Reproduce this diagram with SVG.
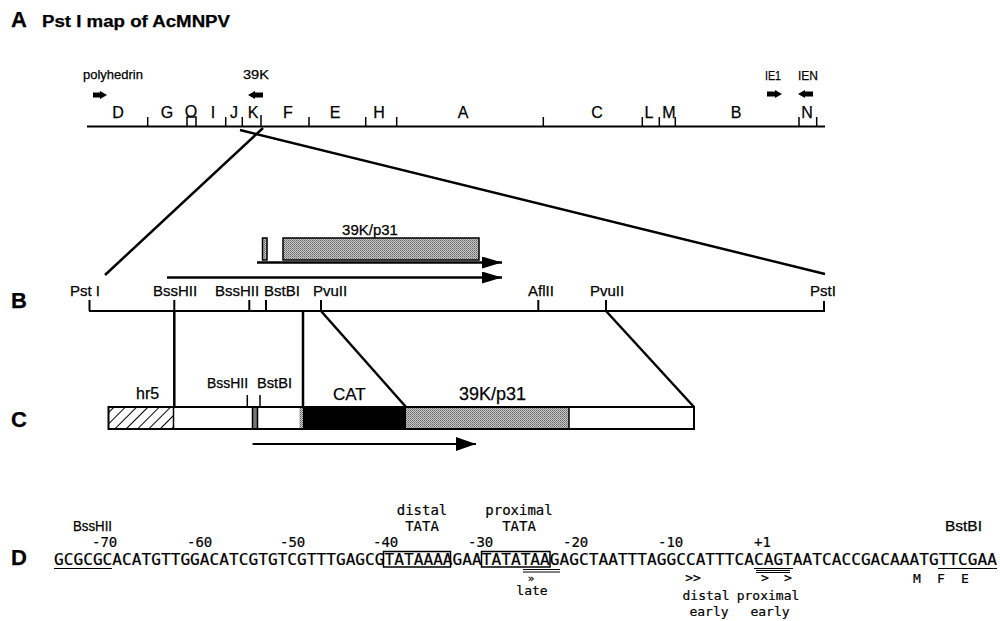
<svg xmlns="http://www.w3.org/2000/svg" width="1000" height="621" viewBox="0 0 1000 621">
<defs>
<style>
.s{font-family:"Liberation Sans",Arial,sans-serif;fill:#000;stroke:#000;stroke-width:0.25}
.b{font-weight:bold}
.m{font-family:"DejaVu Sans Mono","Liberation Mono",monospace;fill:#000;stroke:#000;stroke-width:0.2}
.c{text-anchor:middle}
.ln{stroke:#000;fill:none}
.con{stroke:#000;stroke-width:2.5;fill:none}
</style>
<pattern id="hatch" width="8" height="8" patternUnits="userSpaceOnUse" patternTransform="rotate(45)">
<rect width="8" height="8" fill="#fff"/>
<line x1="0" y1="0" x2="0" y2="8" stroke="#000" stroke-width="2"/>
</pattern>
<pattern id="dots" width="2" height="2" patternUnits="userSpaceOnUse">
<rect width="2" height="2" fill="#c8c8c8"/>
<rect width="1" height="1" fill="#666"/>
<rect x="1" y="1" width="1" height="1" fill="#888"/>
</pattern>
<marker id="ah" viewBox="0 0 20 12" refX="20" refY="6" markerWidth="20" markerHeight="12" markerUnits="userSpaceOnUse" orient="auto">
<path d="M0,0 L20,6 L0,12 z" fill="#000"/>
</marker>
<marker id="ah2" viewBox="0 0 20 14" refX="20" refY="7" markerWidth="20" markerHeight="14" markerUnits="userSpaceOnUse" orient="auto">
<path d="M0,0 L20,7 L0,14 z" fill="#000"/>
</marker>
</defs>
<rect width="1000" height="621" fill="#fff"/>

<!-- Panel A -->
<g id="panelA">
<text class="s b" x="11" y="27" font-size="22">A</text>
<text class="s b" x="42" y="27" font-size="16" textLength="188" lengthAdjust="spacingAndGlyphs">Pst I map of AcMNPV</text>
<g id="genes-A">
<text class="s" x="83" y="79" font-size="13" textLength="60" lengthAdjust="spacingAndGlyphs">polyhedrin</text>
<polygon points="93,92.5 100,92.5 100,91 107,95 100,99 100,97.5 93,97.5" fill="#000"/>
<text class="s" x="243" y="79" font-size="13" textLength="26" lengthAdjust="spacingAndGlyphs">39K</text>
<polygon points="263,92.5 255,92.5 255,91 248,95 255,99 255,97.5 263,97.5" fill="#000"/>
<text class="s" x="765" y="80" font-size="13" textLength="16" lengthAdjust="spacingAndGlyphs">IE1</text>
<polygon points="767,91.5 775,91.5 775,90 782,94 775,98 775,96.5 767,96.5" fill="#000"/>
<text class="s" x="798" y="80" font-size="13" textLength="20" lengthAdjust="spacingAndGlyphs">IEN</text>
<polygon points="813,91.5 805,91.5 805,90 798,94 805,98 805,96.5 813,96.5" fill="#000"/>
</g>
<g id="map-A">
<line class="ln" x1="87" y1="126.5" x2="825" y2="126.5" stroke-width="1.8"/>
<path class="ln" stroke-width="1.5" d="M147.7,126 V117 M225.7,126 V117 M242.3,126 V117 M261,126 V115 M309,126 V117 M365.7,126 V117 M396.7,126 V117 M543.3,126 V117 M642.3,126 V117 M659.3,126 V117 M675.3,126 V117 M799,126 V117 M816.7,126 V117 M187,126 V117 H196 V126"/>
</g>
<g class="s c" font-size="16">
<text x="118" y="118">D</text>
<text x="167" y="118">G</text>
<text x="191" y="117">O</text>
<text x="213" y="118">I</text>
<text x="234" y="118">J</text>
<text x="253" y="118">K</text>
<text x="288" y="118">F</text>
<text x="335" y="118">E</text>
<text x="379" y="118">H</text>
<text x="463" y="118">A</text>
<text x="597" y="118">C</text>
<text x="649" y="118">L</text>
<text x="669" y="118">M</text>
<text x="736" y="118">B</text>
<text x="807" y="118">N</text>
</g>
</g>

<!-- Panel B -->
<g id="panelB">
<text class="s b" x="11" y="308" font-size="22">B</text>
<g id="transcripts-B">
<text class="s c" x="370" y="235" font-size="15">39K/p31</text>
<rect x="262.5" y="238" width="4.5" height="22" fill="url(#dots)" stroke="#000" stroke-width="1.5"/>
<rect x="283" y="238" width="196" height="22" fill="url(#dots)" stroke="#000" stroke-width="1.5"/>
<line class="ln" x1="257" y1="262.5" x2="502" y2="262.5" stroke-width="2.5" marker-end="url(#ah)"/>
<line class="ln" x1="167" y1="277.5" x2="502" y2="277.5" stroke-width="2.5" marker-end="url(#ah)"/>
</g>
<g id="map-B">
<line class="ln" x1="89" y1="311" x2="825" y2="311" stroke-width="2"/>
<path class="ln" stroke-width="2" d="M89.5,311 V300 M824,311 V301 M249.3,311 V300 M266,311 V300 M538.3,311 V300 M174.3,311 V300 M321,311 V300 M606,311 V300"/>
</g>
<g class="s" font-size="15">
<text x="70" y="296">Pst I</text>
<text x="153" y="296">BssHII</text>
<text x="215" y="296">BssHII</text>
<text x="264" y="296">BstBI</text>
<text x="313" y="296">PvuII</text>
<text x="528" y="296">AflII</text>
<text x="590" y="296">PvuII</text>
<text x="810" y="296">PstI</text>
</g>
</g>

<!-- Panel C -->
<g id="panelC">
<text class="s b" x="11" y="427" font-size="22">C</text>
<g id="construct-C">
<rect x="108.5" y="407" width="65" height="22" fill="url(#hatch)"/>
<rect x="173.5" y="407" width="79" height="22" fill="#fff"/>
<rect x="252.5" y="407" width="5" height="22" fill="#777"/>
<rect x="257.5" y="407" width="42" height="22" fill="#fff"/>
<rect x="299.5" y="407" width="3.5" height="22" fill="url(#dots)"/>
<rect x="303" y="407" width="103" height="22" fill="#000"/>
<rect x="406" y="407" width="163" height="22" fill="url(#dots)"/>
<rect x="569" y="407" width="125" height="22" fill="#fff"/>
<rect x="108.5" y="407" width="585.5" height="22" fill="none" stroke="#000" stroke-width="2"/>
<path class="ln" stroke-width="1.5" d="M173.5,407 V429 M252.5,407 V429 M257.5,407 V429 M569,407 V429 M247.3,407 V395 M260,407 V395"/>
<line class="ln" x1="252.5" y1="444" x2="476" y2="444" stroke-width="2" marker-end="url(#ah2)"/>
</g>
<g class="s">
<text x="136" y="399" font-size="16">hr5</text>
<text x="207" y="388" font-size="14" textLength="41" lengthAdjust="spacingAndGlyphs">BssHII</text>
<text x="257" y="388" font-size="14" textLength="35" lengthAdjust="spacingAndGlyphs">BstBI</text>
<text x="333" y="400" font-size="17">CAT</text>
<text x="459" y="400" font-size="18">39K/p31</text>
</g>
</g>

<!-- Connectors -->
<g id="connectors">
<line class="con" x1="263" y1="128" x2="105" y2="275"/>
<line class="con" x1="240" y1="130" x2="825" y2="274"/>
<line class="con" x1="174.3" y1="311" x2="174.3" y2="407" stroke-width="2"/>
<line class="con" x1="303" y1="311" x2="303" y2="407" stroke-width="2"/>
<line class="con" x1="321" y1="311" x2="406" y2="407"/>
<line class="con" x1="606" y1="311" x2="694" y2="407"/>
</g>

<!-- Panel D -->
<g id="panelD">
<text class="s b" x="11" y="565" font-size="22">D</text>
<text class="s" x="73" y="531" font-size="14" textLength="39" lengthAdjust="spacingAndGlyphs">BssHII</text>
<text class="s" x="945" y="531" font-size="14" textLength="37" lengthAdjust="spacingAndGlyphs">BstBI</text>
<g class="m c" font-size="14">
<text x="422" y="515">distal</text>
<text x="422" y="531">TATA</text>
<text x="519" y="515">proximal</text>
<text x="519" y="531">TATA</text>
</g>
<g class="m" font-size="14">
<text x="92" y="547">-70</text>
<text x="187" y="547">-60</text>
<text x="280" y="547">-50</text>
<text x="373" y="547">-40</text>
<text x="468" y="547">-30</text>
<text x="563" y="547">-20</text>
<text x="658" y="547">-10</text>
<text x="754" y="547">+1</text>
</g>
<text class="m" x="54" y="565" font-size="15" textLength="943" lengthAdjust="spacingAndGlyphs">GCGCGCACATGTTGGACATCGTGTCGTTTGAGCGTATAAAAGAATATATAAGAGCTAATTTAGGCCATTTCACAGTAATCACCGACAAATGTTCGAA</text>
<rect x="383.5" y="551.5" width="67" height="15.5" fill="none" stroke="#000" stroke-width="1.5"/>
<rect x="481.5" y="551.5" width="68.5" height="15.5" fill="none" stroke="#000" stroke-width="1.5"/>
<path class="ln" stroke-width="1.2" d="M54,568.5 H112 M938,568.5 H997 M754,568.5 H793 M523,569.5 H560 M523,572 H560 M756,570.5 H790 M756,572.5 H790"/>
<g class="m c" font-size="13">
<text x="531" y="582" font-size="11">»</text>
<text x="532" y="595">late</text>
<text x="693" y="582">&gt;&gt;</text>
<text x="765" y="582">&gt;</text>
<text x="788" y="582">&gt;</text>
<text x="917" y="583">M</text>
<text x="941" y="583">F</text>
<text x="965" y="583">E</text>
<text x="706" y="600">distal</text>
<text x="768" y="600">proximal</text>
<text x="709" y="616">early</text>
<text x="770" y="616">early</text>
</g>
</g>
</svg>
